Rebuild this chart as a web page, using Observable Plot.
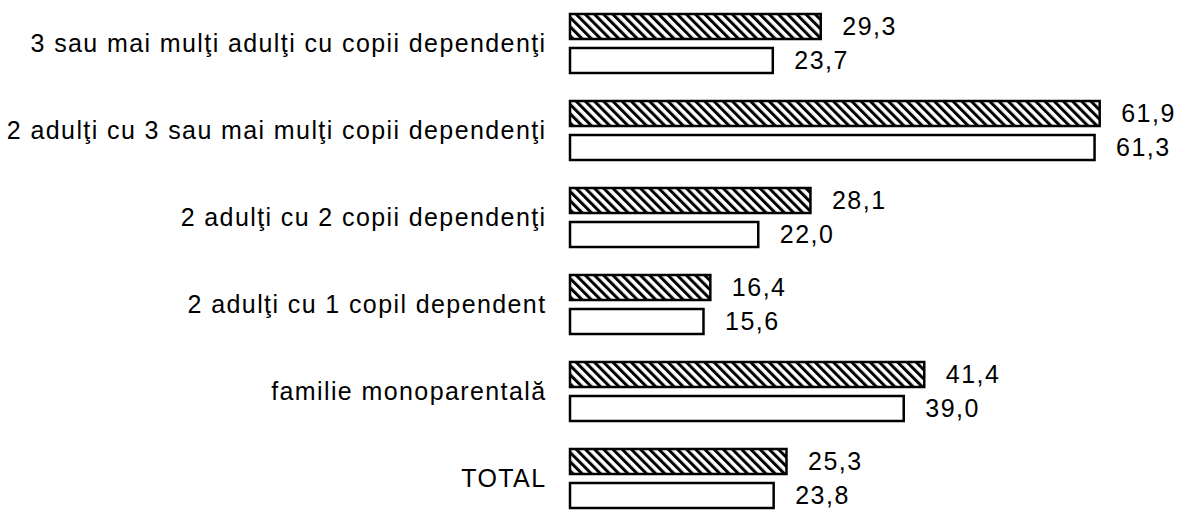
<!DOCTYPE html>
<html><head><meta charset="utf-8">
<script src="https://cdn.jsdelivr.net/npm/d3@7"></script>
<script src="https://cdn.jsdelivr.net/npm/@observablehq/plot@0.6"></script>
<style>body{margin:0;background:#fff}</style>
</head><body><div id="chart"></div>
<script>
const categories = [
  "3 sau mai mulţi adulţi cu copii dependenţi",
  "2 adulţi cu 3 sau mai mulţi copii dependenţi",
  "2 adulţi cu 2 copii dependenţi",
  "2 adulţi cu 1 copil dependent",
  "familie monoparentală",
  "TOTAL"
];
const seriesKeys = ["A", "B"];
const valuesA = [29.3, 61.9, 28.1, 16.4, 41.4, 25.3];
const valuesB = [23.7, 61.3, 22.0, 15.6, 39.0, 23.8];

const dataA = categories.map((c, i) => ({cat: c, s: "A", v: valuesA[i]}));
const dataB = categories.map((c, i) => ({cat: c, s: "B", v: valuesB[i]}));
const all = dataA.concat(dataB);
const fmt = v => v.toFixed(1).replace(".", ",");

const chart = Plot.plot({
  width: 1180, height: 513,
  marginLeft: 570, marginRight: 11, marginTop: 13, marginBottom: 5,
  style: {fontFamily: "'Liberation Sans', Arial, sans-serif", background: "#fff", color: "#000"},
  x: {domain: [0, 70], axis: null},
  y: {domain: seriesKeys, axis: null, paddingInner: 0.265, paddingOuter: 0},
  fy: {domain: categories, paddingInner: 0.323, paddingOuter: 0, label: null},
  marks: [
    Plot.axisFy({anchor: "left", tickSize: 0, tickPadding: 24, fontSize: 25, label: null, fill: "#000"}),
    Plot.barX(dataA, {x: "v", y: "s", fy: "cat", fill: "url(#hatch)", stroke: "#000", strokeWidth: 2.5}),
    Plot.barX(dataB, {x: "v", y: "s", fy: "cat", fill: "#fff", stroke: "#000", strokeWidth: 2.5}),
    Plot.text(all, {x: "v", y: "s", fy: "cat", text: d => fmt(d.v), textAnchor: "start", dx: 21, fontSize: 25, fill: "#000"})
  ]
});
d3.select(chart).insert("defs", ":first-child").html(
  '<pattern id="hatch" patternUnits="userSpaceOnUse" width="6.5" height="6.5" patternTransform="rotate(-45)">' +
  '<rect width="6.5" height="6.5" fill="#fff"/><rect x="0" y="0" width="3" height="6.5" fill="#000"/></pattern>'
);
d3.select(chart).selectAll('g[aria-label="fy-axis tick label"] text').attr("letter-spacing", "1.4");
d3.select(chart).selectAll('g[aria-label="text"] text').attr("letter-spacing", "1.5");
document.getElementById("chart").appendChild(chart);
</script>
</body></html>
